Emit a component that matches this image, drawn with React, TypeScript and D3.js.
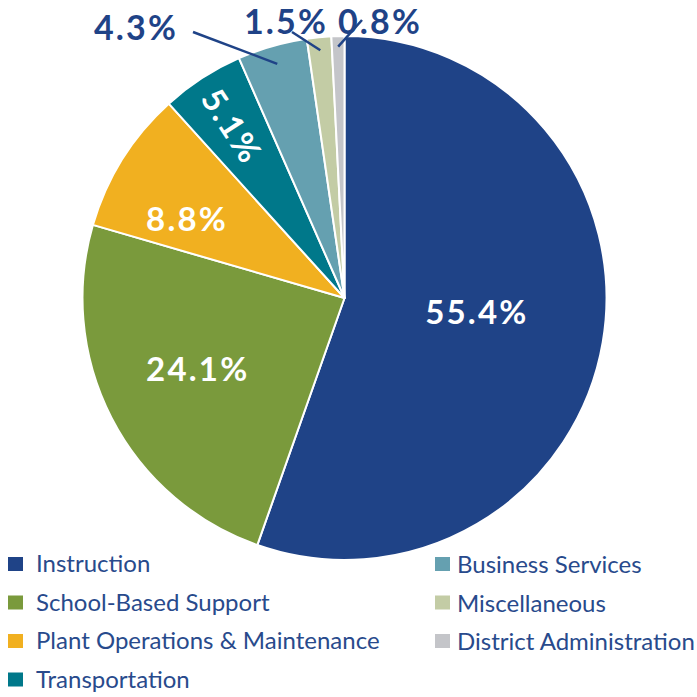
import React from "react";
import * as d3 from "d3";

const categories = [
  "Instruction",
  "School-Based Support",
  "Plant Operations & Maintenance",
  "Transportation",
  "Business Services",
  "Miscellaneous",
  "District Administration",
];
const values = [55.4, 24.1, 8.8, 5.1, 4.3, 1.5, 0.8];
const labels = ["55.4%", "24.1%", "8.8%", "5.1%", "4.3%", "1.5%", "0.8%"];
const colors = ["#1f4387", "#7a9a3c", "#f1b020", "#00788a", "#65a0b0", "#c3cca5", "#c4c5c9"];

const W = 697;
const H = 697;
const cx = 344.5;
const cy = 298;
const R = 262;
const labelFont = "Lato, 'Noto Sans', sans-serif";

// inside label placement: radius factor, angle tweak (degrees), nudge
const inside = [
  { r: 0.5, da: -4, rot: 0, dx: 2, dy: 1 },
  { r: 0.64, da: 2, rot: 0, dx: 5, dy: 0 },
  { r: 0.69, da: -6, rot: 0, dx: 5, dy: 0 },
  { r: 0.79, da: 0, rot: 57, dx: 0, dy: 2 },
];
// outside labels: text position and leader line
const outside = [
  { i: 4, tx: 136, ty: 40, lx1: 193, ly1: 32, lr: 0.93 },
  { i: 5, tx: 286, ty: 34, lx1: 292, ly1: 32, lr: 0.95 },
  { i: 6, tx: 380, ty: 34, lx1: 362, ly1: 20, lr: 0.96 },
];

export default function App() {
  const pie = d3.pie<number>().sort(null).value((d) => d)(values);
  const arc = d3.arc<d3.PieArcDatum<number>>().innerRadius(0).outerRadius(R);
  const polar = (a: number, r: number) => [cx + r * Math.sin(a), cy - r * Math.cos(a)];

  const legendLeft = [0, 1, 2, 3];
  const legendRight = [4, 5, 6];

  return (
    <svg width={W} height={H} style={{ position: "absolute", left: 0, top: 0 }}>
      <rect width={W} height={H} fill="#fff" />
      <g transform={`translate(${cx},${cy})`}>
        {pie.map((p, i) => (
          <path key={i} d={arc(p) || ""} fill={colors[i]} stroke="#fff" strokeWidth={2} strokeLinejoin="round" />
        ))}
      </g>
      {inside.map((c, i) => {
        const p = pie[i];
        const a = (p.startAngle + p.endAngle) / 2 + (c.da * Math.PI) / 180;
        const [x, y] = polar(a, c.r * R);
        return (
          <text
            key={i}
            transform={`translate(${x + c.dx},${y + c.dy}) rotate(${c.rot})`}
            textAnchor="middle"
            dy="0.36em"
            fill="#fff"
            fontFamily={labelFont}
            fontWeight={700}
            fontSize={33}
            letterSpacing={2.2}
          >
            {labels[i]}
          </text>
        );
      })}
      {outside.map((o) => {
        const p = pie[o.i];
        const a = (p.startAngle + p.endAngle) / 2;
        const [x2, y2] = polar(a, o.lr * R);
        return (
          <g key={o.i}>
            <line x1={o.lx1} y1={o.ly1} x2={x2} y2={y2} stroke="#1f4387" strokeWidth={2.5} />
            <text
              x={o.tx}
              y={o.ty}
              textAnchor="middle"
              fill="#1f4387"
              fontFamily={labelFont}
              fontWeight={700}
              fontSize={34}
              letterSpacing={2.2}
            >
              {labels[o.i]}
            </text>
          </g>
        );
      })}
      {legendLeft.map((i, k) => (
        <g key={i} transform={`translate(8,${557 + k * 38.5})`}>
          <rect width={15} height={14} fill={colors[i]} />
          <text x={28} y={15} fill="#284a8c" fontFamily={labelFont} fontSize={24}>
            {categories[i]}
          </text>
        </g>
      ))}
      {legendRight.map((i, k) => (
        <g key={i} transform={`translate(435,${557 + k * 38.5})`}>
          <rect width={15} height={14} fill={colors[i]} />
          <text x={22} y={16} fill="#284a8c" fontFamily={labelFont} fontSize={24}>
            {categories[i]}
          </text>
        </g>
      ))}
    </svg>
  );
}
